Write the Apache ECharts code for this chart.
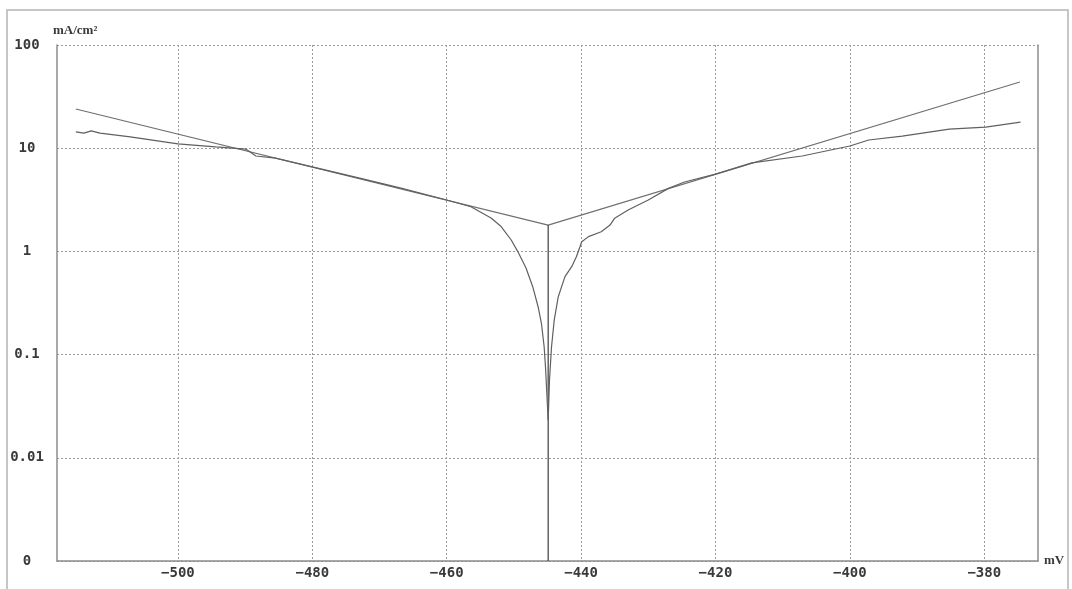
<!DOCTYPE html>
<html>
<head>
<meta charset="utf-8">
<title>Tafel plot</title>
<script src="https://cdn.jsdelivr.net/npm/echarts@6/dist/echarts.min.js"></script>
<style>
  html, body { margin: 0; padding: 0; background: #fff; }
  #chart { width: 1072px; height: 589px; }
</style>
</head>
<body>
<div id="chart"></div>
<script>
// Potential (mV) and current density (mA/cm²) of the measured polarisation curve
const curveMv = [
  -515.2, -514.0, -512.9, -511.6, -507.1, -500.0, -494.4, -489.9, -488.4, -485.5,
  -480.0, -472.8, -466.8, -460.0, -456.4, -453.4, -451.9, -450.4, -449.4, -448.2,
  -447.2, -446.4, -445.9, -445.5, -445.3, -445.1, -444.9,
  -444.7, -444.4, -444.0, -443.4, -442.4, -441.4, -440.7, -439.9, -438.9, -437.0,
  -435.7, -435.0, -433.0, -430.0, -427.0, -424.6, -420.0, -414.6, -407.1,
  -400.0, -397.2, -392.2, -385.2, -379.8, -374.6
];
const curveI = [
  14.4, 14.0, 14.7, 14.0, 12.9, 11.0, 10.3, 9.8, 8.4, 8.0,
  6.6, 5.1, 4.1, 3.15, 2.71, 2.11, 1.74, 1.29, 0.99, 0.69,
  0.455, 0.291, 0.200, 0.119, 0.076, 0.042, 0.023,
  0.057, 0.119, 0.216, 0.364, 0.569, 0.711, 0.889, 1.24, 1.39, 1.55,
  1.80, 2.10, 2.52, 3.15, 4.08, 4.7, 5.6, 7.2, 8.4,
  10.5, 12.0, 13.1, 15.3, 16.0, 17.9
];

// Tafel extrapolation: cathodic branch, corrosion point, anodic branch
const tafelMv = [-515.2, -444.9, -374.7];
const tafelI = [24, 1.8, 43.8];

// Corrosion potential marker down to the bottom of the axis
const ecorrMv = [-444.9, -444.9];
const ecorrI = [1.8, 0.001];

// Axis settings
const xTickValues = [-500, -480, -460, -440, -420, -400, -380];
const yTickLabels = { '100': '100', '10': '10', '1': '1', '0.1': '0.1', '0.01': '0.01', '0.001': '0' };

const zip = (xs, ys) => xs.map((x, i) => [x, ys[i]]);
const fmtY = (v) => {
  const key = String(parseFloat(Number(v).toPrecision(3)));
  return yTickLabels[key] !== undefined ? yTickLabels[key] : '';
};

const labelFont = {
  fontFamily: 'DejaVu Sans Mono',
  fontWeight: 'bold',
  fontSize: 14,
  color: '#3a3a3a'
};
const unitFont = {
  fontFamily: 'Liberation Serif',
  fontWeight: 'bold',
  fontSize: 13,
  color: '#3a3a3a'
};
const gridLine = { color: '#9a9a9a', width: 1, type: [2, 2] };
const frameLine = { color: '#8c8c8c', width: 1.5 };

const chart = echarts.init(document.getElementById('chart'), null, { renderer: 'canvas' });

chart.setOption({
  animation: false,
  backgroundColor: '#ffffff',
  grid: { left: 57, right: 34, top: 45, bottom: 28, containLabel: false },
  graphic: [{
    type: 'rect',
    shape: { x: 7, y: 10, width: 1061, height: 600 },
    style: { fill: 'none', stroke: '#b4b4b4', lineWidth: 1.5 },
    silent: true,
    z: -1
  }],
  xAxis: {
    type: 'value',
    min: -518,
    max: -372,
    name: 'mV',
    nameLocation: 'end',
    nameGap: 6,
    nameTextStyle: Object.assign({
      verticalAlign: 'middle',
      padding: [0, 0, 10, 0]
    }, unitFont),
    axisLine: { show: true, onZero: false, lineStyle: frameLine },
    axisTick: { show: false, customValues: xTickValues },
    axisLabel: Object.assign({
      margin: 5,
      customValues: xTickValues,
      formatter: (v) => String(Math.round(v)).replace('-', '\u2212')
    }, labelFont),
    splitLine: { show: true, lineStyle: gridLine }
  },
  yAxis: [{
    type: 'log',
    logBase: 10,
    min: 0.001,
    max: 100,
    name: 'mA/cm\u00B2',
    nameLocation: 'end',
    nameGap: 8,
    nameTextStyle: Object.assign({ align: 'left', padding: [0, 0, 0, -4] }, unitFont),
    axisLine: { show: true, lineStyle: frameLine },
    axisTick: { show: false },
    axisLabel: Object.assign({
      margin: 30,
      align: 'center',
      formatter: fmtY
    }, labelFont),
    splitLine: { show: true, lineStyle: gridLine }
  }, {
    type: 'log',
    logBase: 10,
    min: 0.001,
    max: 100,
    position: 'right',
    axisLine: { show: true, lineStyle: frameLine },
    axisTick: { show: false },
    axisLabel: { show: false },
    splitLine: { show: false }
  }],
  series: [{
    name: 'Tafel',
    type: 'line',
    data: zip(tafelMv, tafelI),
    symbol: 'none',
    lineStyle: { color: '#707070', width: 1.2 },
    z: 3
  }, {
    name: 'Ecorr',
    type: 'line',
    data: zip(ecorrMv, ecorrI),
    symbol: 'none',
    lineStyle: { color: '#3c3c3c', width: 1.2 },
    z: 4
  }, {
    name: 'Measured',
    type: 'line',
    data: zip(curveMv, curveI),
    symbol: 'none',
    lineStyle: { color: '#606060', width: 1.2 },
    z: 5
  }]
});
</script>
</body>
</html>
